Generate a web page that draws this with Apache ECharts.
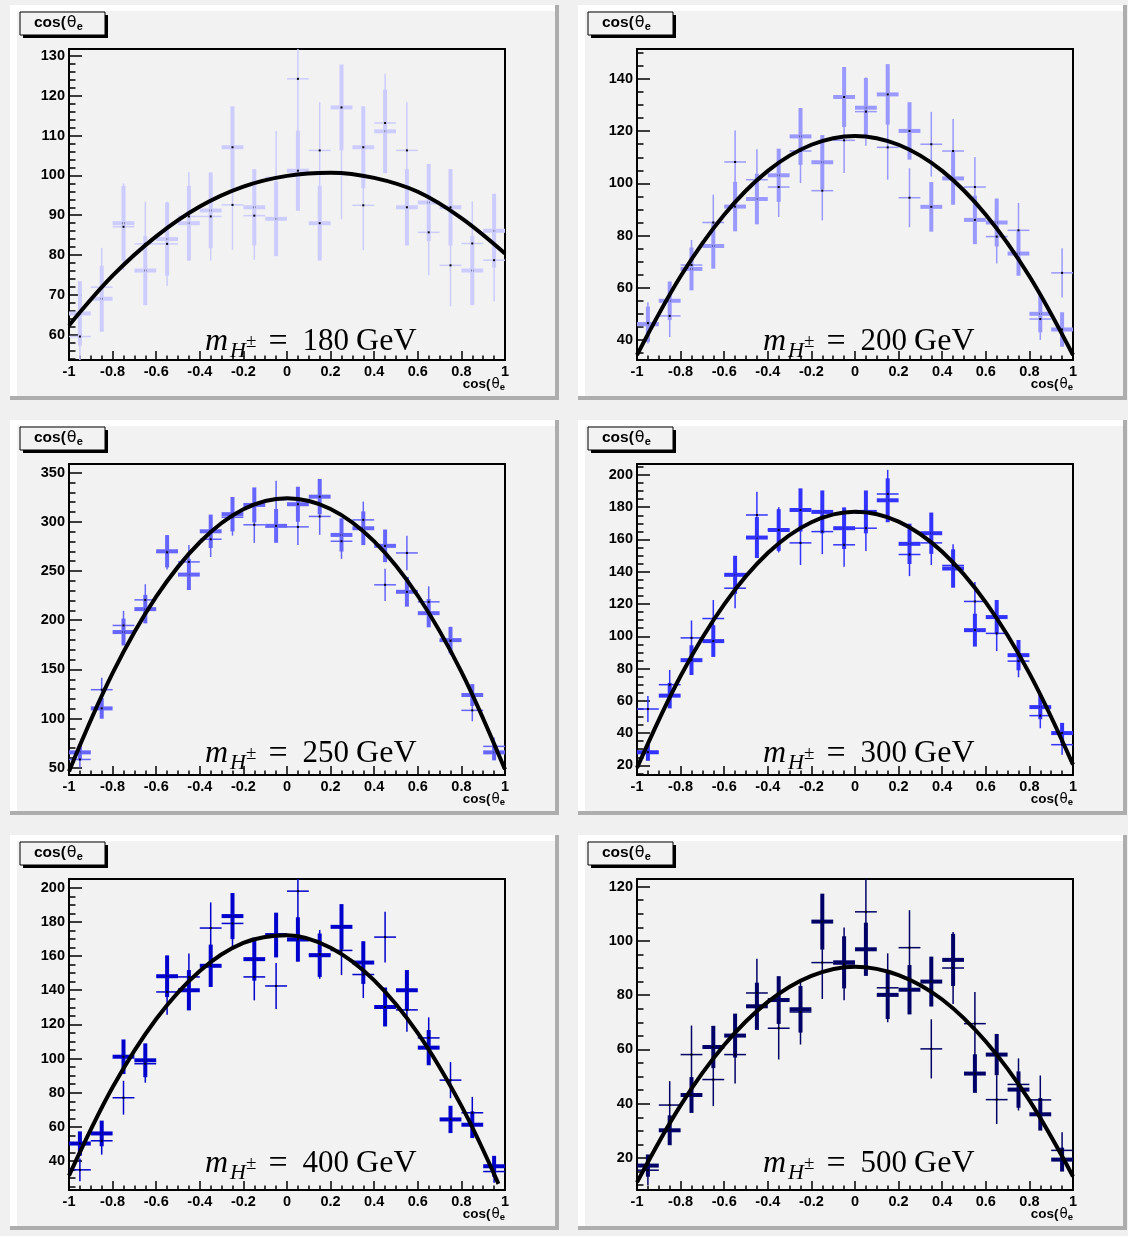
<!DOCTYPE html>
<html>
<head>
<meta charset="utf-8">
<script src="https://cdn.jsdelivr.net/npm/echarts@6/dist/echarts.min.js"></script>
<style>
html,body{margin:0;padding:0;background:#f0f0f0;}
#chart{width:1128px;height:1236px;}
</style>
</head>
<body>
<div id="chart"></div>
<script>
// ---------------- data ----------------
const binCenters = [-0.95,-0.85,-0.75,-0.65,-0.55,-0.45,-0.35,-0.25,-0.15,-0.05,0.05,0.15,0.25,0.35,0.45,0.55,0.65,0.75,0.85,0.95];
const BIN_WIDTH = 0.1;
const xTickLabels = [-1,-0.8,-0.6,-0.4,-0.2,0,0.2,0.4,0.6,0.8,1];
const fitX = [-1,-0.8,-0.6,-0.4,-0.2,0,0.2,0.4,0.6,0.8,1];
const fitX400 = [-1,-0.8,-0.6,-0.4,-0.2,0,0.2,0.4,0.6,0.8,0.97];
const masses = [180, 200, 250, 300, 400, 500];

const thick180    = [65.3,69.0,88.0,76.1,84.0,88.0,91.2,107.1,92.0,89.1,101.2,88.0,117.1,107.1,111.1,92.0,93.2,92.0,76.1,86.1];
const thick180Err = [8.1,8.3,9.4,8.7,9.2,9.4,9.5,10.3,9.6,9.4,10.1,9.4,10.8,10.3,10.5,9.6,9.7,9.6,8.7,9.3];
const thin180     = [59.5,71.9,87.1,82.8,82.8,89.7,89.7,92.6,89.9,99.5,124.3,106.3,100.7,92.5,113.2,106.3,85.7,77.4,82.9,78.7];
const thin180Err  = [9.0,9.9,10.9,10.6,10.6,11.1,11.1,11.3,11.1,11.7,13.0,12.1,11.7,11.3,12.4,12.1,10.8,10.3,10.6,10.4];
const fit180      = [62.3,74.8,84.7,92.2,97.2,99.9,100.7,99.4,95.9,89.3,80.4];

const thick200    = [46.0,55.0,67.2,76.0,91.1,94.0,103.1,118.0,108.1,133.1,129.0,134.1,120.1,91.0,101.9,86.0,85.0,73.1,50.0,44.0];
const thick200Err = [6.8,7.4,8.2,8.7,9.5,9.7,10.2,10.9,10.4,11.5,11.4,11.6,11.0,9.5,10.1,9.3,9.2,8.5,7.1,6.6];
const thin200     = [46.5,49.2,68.7,85.0,108.2,101.4,98.6,112.4,97.2,116.5,127.5,113.8,94.5,115.0,112.4,98.6,79.6,82.0,48.0,65.7];
const thin200Err  = [7.9,8.1,9.6,10.7,12.1,11.7,11.5,12.3,11.4,12.5,13.1,12.4,11.3,12.4,12.3,11.5,10.3,10.5,8.0,9.4];
const fit200      = [34.2,64.4,88.0,104.8,114.8,118.2,114.8,104.8,88.0,64.4,34.2];

const thick250    = [65.7,110.4,188.0,211.3,270.1,246.4,290.4,307.8,317.2,295.9,317.9,325.6,286.7,293.5,275.6,228.9,207.2,179.8,124.0,65.7];
const thick250Err = [8.1,10.5,13.7,14.5,16.4,15.7,17.0,17.5,17.8,17.2,17.8,18.0,16.9,17.1,16.6,15.1,14.4,13.4,11.1,8.1];
const thin250     = [58.5,129.4,194.7,220.7,269.0,259.3,282.3,304.7,297.0,322.6,294.9,305.5,280.3,302.0,236.0,268.4,218.7,179.1,108.4,71.8];
const thin250Err  = [8.2,12.2,14.9,15.9,17.5,17.2,18.0,18.7,18.4,19.2,18.4,18.7,17.9,18.6,16.4,17.5,15.8,14.3,11.1,9.1];
const fit250      = [46.4,146.2,223.9,279.3,312.8,324.0,313.1,280.1,224.9,147.6,48.2];

const thick300    = [28.1,63.2,85.2,97.0,138.1,161.2,165.9,178.3,177.1,167.0,177.1,184.3,157.3,163.9,142.0,103.8,111.9,88.3,56.1,40.0];
const thick300Err = [5.3,7.9,9.2,9.8,11.8,12.7,12.9,13.4,13.3,12.9,13.3,13.6,12.5,12.8,11.9,10.2,10.6,9.4,7.5,6.3];
const thin300     = [54.9,70.0,99.0,111.0,129.8,175.2,166.0,157.9,164.9,156.7,167.0,188.2,150.7,157.9,143.9,121.6,101.8,84.6,50.8,32.8];
const thin300Err  = [8.1,9.1,10.8,11.5,12.4,14.4,14.0,13.7,14.0,13.6,14.1,15.0,13.4,13.7,13.1,12.0,11.0,10.0,7.8,6.2];
const fit300      = [18.4,75.4,119.8,151.6,170.7,177.2,171.1,152.4,121.0,77.0,20.4];

const thick400    = [50.3,56.2,101.1,99.0,148.2,140.0,154.3,183.4,158.2,172.3,169.7,160.5,177.1,156.2,130.2,140.0,106.4,64.4,61.3,37.0];
const thick400Err = [7.1,7.5,10.1,9.9,12.2,11.8,12.4,13.5,12.6,13.1,13.0,12.7,13.3,12.5,11.4,11.8,10.3,8.0,7.8,6.1];
const thin400     = [34.9,51.9,77.1,97.0,139.0,147.8,176.4,179.1,147.8,142.5,198.0,161.0,163.3,149.2,171.1,128.5,112.1,87.4,68.3,33.9];
const thin400Err  = [6.7,8.1,9.9,11.1,13.3,13.7,15.0,15.1,13.7,13.5,15.9,14.3,14.4,13.8,14.8,12.8,12.0,10.6,9.3,6.6];
const fit400      = [31.5,83.2,123.2,151.3,167.7,172.2,164.9,145.8,114.9,72.3,26.7];

const thick500    = [17.2,30.2,43.2,60.9,65.1,75.9,78.2,74.8,107.1,92.1,96.9,80.1,82.0,85.0,93.0,51.1,58.1,45.2,36.1,19.4];
const thick500Err = [4.1,5.5,6.6,7.8,8.1,8.7,8.8,8.6,10.3,9.6,9.8,8.9,9.1,9.2,9.6,7.1,7.6,6.7,6.0,4.4];
const thin500     = [15.5,39.5,58.1,48.9,58.1,80.8,67.8,73.8,92.0,91.5,110.7,82.7,97.5,60.2,90.0,69.5,41.5,47.1,41.4,22.8];
const thin500Err  = [5.5,8.8,10.7,9.8,10.7,12.6,11.5,12.0,13.4,13.4,14.7,12.7,13.8,10.9,13.3,11.7,9.0,9.6,9.0,6.7];
const fit500      = [11.0,39.4,61.6,77.5,87.1,90.5,87.4,78.4,62.9,41.2,13.2];

// axis ranges and tick steps
const yMin   = [53.6, 32.3, 42.7, 14.0, 23.1, 8.2];
const yMax   = [131.8, 151.5, 358.8, 206.8, 205.1, 122.8];
const yMajor = [10, 20, 50, 20, 20, 20];
const yMinor = [2, 5, 10, 5, 5, 5];

// ---------------- styling / layout ----------------
const colors = ['#ccccff', '#9999ff', '#6666ff', '#3333ff', '#0000cc', '#000066'];
const panels = [
  {thick: thick180, thickErr: thick180Err, thin: thin180, thinErr: thin180Err, fit: fit180, fx: fitX},
  {thick: thick200, thickErr: thick200Err, thin: thin200, thinErr: thin200Err, fit: fit200, fx: fitX},
  {thick: thick250, thickErr: thick250Err, thin: thin250, thinErr: thin250Err, fit: fit250, fx: fitX},
  {thick: thick300, thickErr: thick300Err, thin: thin300, thinErr: thin300Err, fit: fit300, fx: fitX},
  {thick: thick400, thickErr: thick400Err, thin: thin400, thinErr: thin400Err, fit: fit400, fx: fitX400},
  {thick: thick500, thickErr: thick500Err, thin: thin500, thinErr: thin500Err, fit: fit500, fx: fitX}
];
const PAD_X = [10, 578], PAD_Y = [5, 420, 835];
const PAD_W = 549, PAD_H = 395;
const FRAME_L = 59, FRAME_T = 44, FRAME_W = 436, FRAME_H = 311;
const LABEL_DX = [136, 126];
const LABEL_DY = [317, 314, 309];

const SANS = "'Liberation Sans', Arial, Helvetica, sans-serif";
const SERIF = "'Liberation Serif', 'Times New Roman', serif";

function ticksBetween(min, max, step) {
  const out = [];
  for (let v = Math.ceil(min / step - 1e-9) * step; v <= max + 1e-9; v += step) out.push(+v.toFixed(6));
  return out;
}

function crossRenderer(width, color, lo, hi) {
  return function (params, api) {
    const x = api.value(0), v = api.value(1), e = api.value(2);
    const y0 = Math.max(v - e, lo), y1 = Math.min(v + e, hi);
    const pL = api.coord([x - BIN_WIDTH / 2, v]);
    const pR = api.coord([x + BIN_WIDTH / 2, v]);
    const pB = api.coord([x, y0]);
    const pT = api.coord([x, y1]);
    const pC = api.coord([x, v]);
    return {
      type: 'group',
      children: [
        {type: 'line', shape: {x1: pL[0], y1: pL[1], x2: pR[0], y2: pR[1]}, style: {stroke: color, lineWidth: width}},
        {type: 'line', shape: {x1: pB[0], y1: pB[1], x2: pT[0], y2: pT[1]}, style: {stroke: color, lineWidth: width}},
        {type: 'rect', shape: {x: pC[0] - 1, y: pC[1] - 1, width: 2, height: 2}, style: {fill: '#000'}}
      ]
    };
  };
}

const grids = [], xAxes = [], yAxes = [], series = [], graphics = [];

panels.forEach((p, i) => {
  const col = i % 2, row = Math.floor(i / 2);
  const px = PAD_X[col], py = PAD_Y[row];
  const gl = px + FRAME_L, gt = py + FRAME_T;

  // pad with bevel (white top/left, grey bottom/right)
  graphics.push({type: 'rect', z: -100, shape: {x: px, y: py, width: PAD_W, height: PAD_H}, style: {fill: '#adadad'}});
  graphics.push({type: 'rect', z: -99, shape: {x: px, y: py, width: PAD_W - 4, height: PAD_H - 4}, style: {fill: '#ffffff'}});
  graphics.push({type: 'rect', z: -98, shape: {x: px + 7, y: py + 6, width: PAD_W - 11, height: PAD_H - 10}, style: {fill: '#f2f2f2'}});

  // title box
  graphics.push({type: 'rect', z: 50, shape: {x: px + 13, y: py + 10, width: 85, height: 23}, style: {fill: '#000'}});
  graphics.push({type: 'rect', z: 51, shape: {x: px + 10, y: py + 7, width: 85, height: 23}, style: {fill: '#f2f2f2', stroke: '#000', lineWidth: 1}});
  graphics.push({type: 'text', z: 52, x: px + 24, y: py + 9, style: {
    text: '{a|cos(}{b|θ}{c|e}', align: 'left', verticalAlign: 'top',
    rich: {
      a: {fontFamily: SANS, fontWeight: 'bold', fontSize: 15.5, lineHeight: 18, fill: '#000'},
      b: {fontFamily: "'DejaVu Sans', sans-serif", fontSize: 16, lineHeight: 18, fill: '#000', padding: [0, 0, 0, 1]},
      c: {fontFamily: SANS, fontWeight: 'bold', fontSize: 11, lineHeight: 8, verticalAlign: 'bottom', fill: '#000'}
    }
  }});

  // x axis title
  graphics.push({type: 'text', z: 52, x: px + FRAME_L + FRAME_W, y: py + 371, style: {
    text: '{a|cos(}{b|θ}{c|e}', align: 'right', verticalAlign: 'top',
    rich: {
      a: {fontFamily: SANS, fontWeight: 'bold', fontSize: 13.5, lineHeight: 16, fill: '#000'},
      b: {fontFamily: "'DejaVu Sans', sans-serif", fontSize: 13.5, lineHeight: 16, fill: '#000', padding: [0, 0, 0, 1]},
      c: {fontFamily: SANS, fontWeight: 'bold', fontSize: 9.5, lineHeight: 7, verticalAlign: 'bottom', fill: '#000'}
    }
  }});

  // mass label
  graphics.push({type: 'text', z: 60, x: gl + LABEL_DX[col], y: py + LABEL_DY[row], style: {
    text: '{m|m}{h|H}{pm|±}{eq|=}{n|' + masses[i] + '}{g|GeV}', align: 'left', verticalAlign: 'top',
    rich: {
      m: {fontFamily: SERIF, fontStyle: 'italic', fontSize: 32, lineHeight: 40, fill: '#000'},
      h: {fontFamily: SERIF, fontStyle: 'italic', fontSize: 22, lineHeight: 24, verticalAlign: 'bottom', fill: '#000', padding: [0, 0, 0, 2]},
      pm: {fontFamily: SERIF, fontSize: 19, lineHeight: 40, fill: '#000'},
      eq: {fontFamily: SERIF, fontSize: 34, lineHeight: 40, fill: '#000', padding: [0, 15, 0, 12]},
      n: {fontFamily: SERIF, fontSize: 31, lineHeight: 40, fill: '#000'},
      g: {fontFamily: SERIF, fontSize: 32, lineHeight: 40, fill: '#000', padding: [0, 0, 0, 7]}
    }
  }});

  grids.push({left: gl, top: gt, width: FRAME_W, height: FRAME_H, show: true,
    backgroundColor: '#f2f2f2', borderColor: '#000', borderWidth: 2});

  xAxes.push({
    gridIndex: i, type: 'value', min: xTickLabels[0], max: xTickLabels[xTickLabels.length - 1], interval: 0.2,
    axisLine: {onZero: false, lineStyle: {color: '#000', width: 2}},
    axisTick: {inside: true, length: 9, lineStyle: {color: '#000', width: 1.5}},
    minorTick: {show: true, splitNumber: 4, length: 4.5, lineStyle: {color: '#000', width: 1.5}},
    axisLabel: {color: '#000', fontFamily: SANS, fontWeight: 'bold', fontSize: 14.5, margin: 4,
      showMinLabel: true, showMaxLabel: true},
    splitLine: {show: false}, minorSplitLine: {show: false}
  });

  const majors = ticksBetween(yMin[i], yMax[i], yMajor[i]);
  const minors = ticksBetween(yMin[i], yMax[i], yMinor[i]).filter(v => majors.indexOf(v) < 0);
  yAxes.push({
    gridIndex: i, type: 'value', position: 'left', min: yMin[i], max: yMax[i],
    axisLine: {onZero: false, lineStyle: {color: '#000', width: 2}},
    axisTick: {inside: true, length: 13, customValues: majors, lineStyle: {color: '#000', width: 1.5}},
    axisLabel: {customValues: majors, color: '#000', fontFamily: SANS, fontWeight: 'bold', fontSize: 14.5, margin: 4},
    splitLine: {show: false}
  });
  yAxes.push({
    gridIndex: i, type: 'value', position: 'left', offset: 0, min: yMin[i], max: yMax[i],
    axisLine: {show: false, onZero: false},
    axisTick: {inside: true, length: 6.5, customValues: minors, lineStyle: {color: '#000', width: 1.5}},
    axisLabel: {show: false},
    splitLine: {show: false}
  });

  series.push({
    type: 'custom', xAxisIndex: i, yAxisIndex: 2 * i, clip: true, silent: true, z: 2,
    encode: {x: 0, y: 1},
    data: binCenters.map((x, j) => [x, p.thick[j], p.thickErr[j]]),
    renderItem: crossRenderer(4, colors[i], yMin[i], yMax[i])
  });
  series.push({
    type: 'custom', xAxisIndex: i, yAxisIndex: 2 * i, clip: true, silent: true, z: 3,
    encode: {x: 0, y: 1},
    data: binCenters.map((x, j) => [x, p.thin[j], p.thinErr[j]]),
    renderItem: crossRenderer(1.5, colors[i], yMin[i], yMax[i])
  });
  series.push({
    type: 'line', xAxisIndex: i, yAxisIndex: 2 * i, clip: true, silent: true, z: 5,
    data: p.fx.map((x, j) => [x, p.fit[j]]),
    smooth: 0.35, showSymbol: false, symbol: 'none',
    lineStyle: {color: '#000', width: 4}
  });
});

const chart = echarts.init(document.getElementById('chart'), null, {renderer: 'canvas'});
chart.setOption({
  animation: false,
  backgroundColor: '#f0f0f0',
  grid: grids,
  xAxis: xAxes,
  yAxis: yAxes,
  series: series,
  graphic: {elements: graphics}
});
</script>
</body>
</html>
